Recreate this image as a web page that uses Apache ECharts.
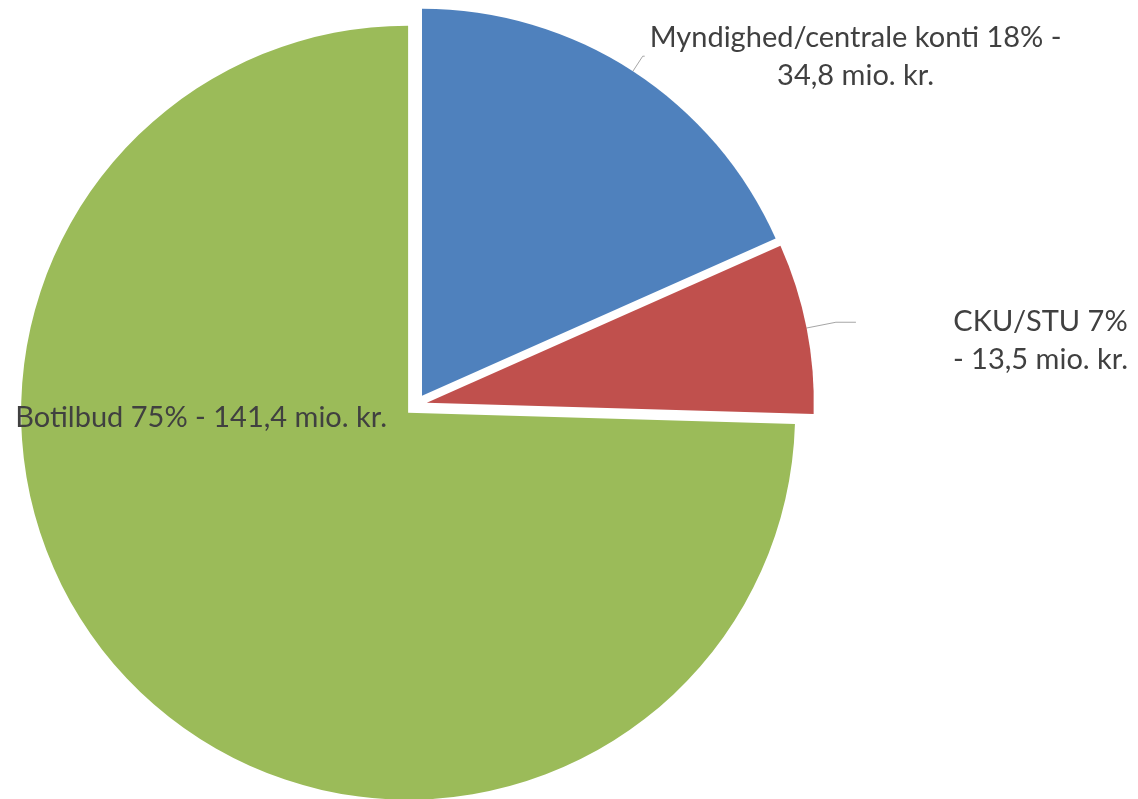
<!DOCTYPE html>
<html>
<head>
<meta charset="utf-8">
<script src="https://cdn.jsdelivr.net/npm/echarts@6/dist/echarts.min.js"></script>
<style>
html,body{margin:0;padding:0;background:#fff;}
#chart{width:1138px;height:799px;}
</style>
</head>
<body>
<div id="chart"></div>
<script>
const categories = ['Myndighed/centrale konti', 'CKU/STU', 'Botilbud'];
const values = [34.8, 13.5, 141.4];
const percentLabels = ['18%', '7%', '75%'];
const colors = ['#4F81BD', '#C0504D', '#9BBB59'];

function fmt(v) { return String(v).replace('.', ','); }
const labelTexts = [
  '{a|' + categories[0] + ' ' + percentLabels[0] + ' -}\n{a|' + fmt(values[0]) + ' mio. kr.}',
  '{a|' + categories[1] + ' ' + percentLabels[1] + '}\n{a|- ' + fmt(values[1]) + ' mio. kr.}',
  '{a|' + categories[2] + ' ' + percentLabels[2] + ' - ' + fmt(values[2]) + ' mio. kr.}'
];

const textStyle = {color: '#404040', fontFamily: 'Lato', fontSize: 29, lineHeight: 38, align: 'center'};

const chart = echarts.init(document.getElementById('chart'), null, {renderer: 'canvas'});
chart.setOption({
  animation: false,
  backgroundColor: '#ffffff',
  series: [{
    type: 'pie',
    center: [416, 405],
    radius: [0, 387],
    startAngle: 90,
    clockwise: true,
    selectedMode: 'multiple',
    selectedOffset: 11,
    avoidLabelOverlap: false,
    emphasis: {disabled: true},
    itemStyle: {borderWidth: 0},
    label: {
      show: true,
      position: 'outside',
      alignTo: 'none',
      color: '#404040',
      fontFamily: 'Lato',
      fontSize: 29,
      lineHeight: 38,
      rich: {a: textStyle},
      formatter: function (p) { return labelTexts[p.dataIndex]; }
    },
    labelLine: {
      show: true,
      lineStyle: {color: '#A6A6A6', width: 1}
    },
    data: categories.map(function (c, i) {
      const item = {
        name: c,
        value: values[i],
        selected: true,
        itemStyle: {color: colors[i]}
      };
      if (i === 0) {
        item.labelLine = {length: 18, length2: 2};
        item.label = {padding: [0, 0, 0, 0]};
      } else if (i === 1) {
        item.labelLine = {length: 30, length2: 20};
        item.label = {padding: [36, 0, 0, 92]};
      } else {
        item.label = {position: 'inside', padding: [0, 132, 264, 0]};
        item.labelLine = {show: false};
      }
      return item;
    })
  }]
});
</script>
</body>
</html>
